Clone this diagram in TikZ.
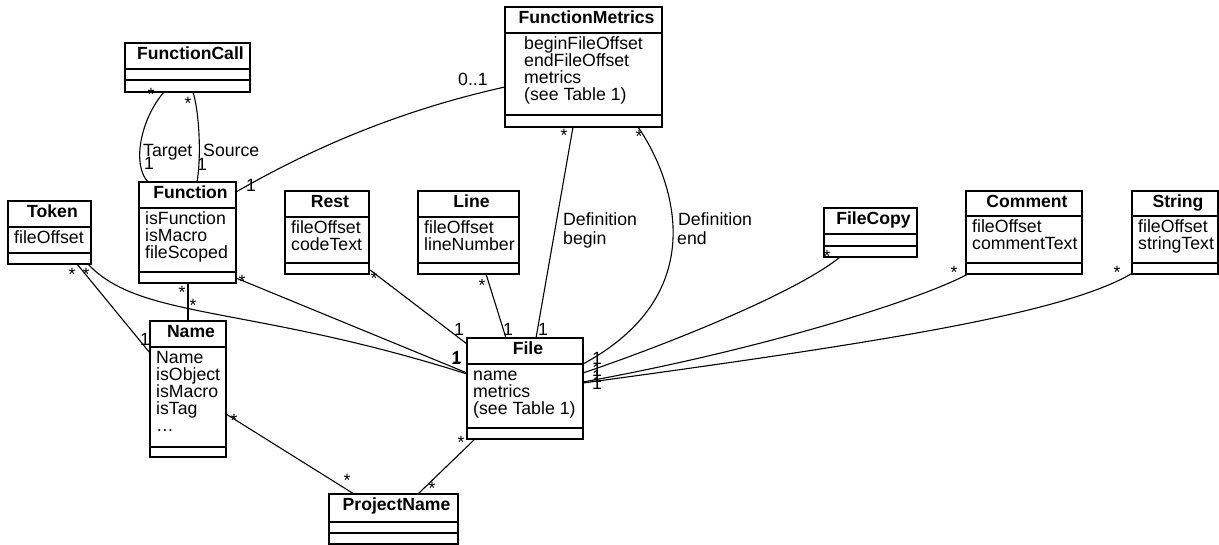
\documentclass[tikz,border=0pt]{standalone}
\usepackage{fontspec}
\setmainfont{Liberation Sans}
\usetikzlibrary{calc}
\tikzset{
  box/.style={draw, line width=1.3pt, inner sep=0pt, outer sep=0pt, anchor=north west},
  hdr/.style={line width=1.6pt},
  sepline/.style={line width=1.3pt},
  title/.style={font=\fontsize{17.6}{17}\selectfont\bfseries, inner sep=0pt, anchor=base},
  attr/.style={font=\fontsize{17.7}{17}\selectfont, inner sep=0pt, anchor=base west},
  lab/.style={font=\fontsize{17.7}{17}\selectfont, inner sep=0pt, anchor=base west},
  mult/.style={font=\fontsize{17.7}{17}\selectfont, inner sep=0pt, anchor=base},
  conn/.style={line width=1.1pt},
}
% #1 name, #2 x, #3 y, #4 width, #5 header h, #6 attr h, #7 ops h, #8 title
\newcommand\umlbox[8]{%
  \node[box, minimum width=#4, minimum height=#5+#6+#7] (#1) at (#2,#3) {};
  \draw[hdr] ($(#1.north west)+(0,#5)$) -- ($(#1.north east)+(0,#5)$);
  \draw[sepline] ($(#1.north west)+(0,#5+#6)$) -- ($(#1.north east)+(0,#5+#6)$);
  \node[title] (#1-t) at ($(#1.north)+(3,16.5)$) {#8};
}
% #1 box, #2 x offset, #3 header h, #4 list
\newcommand\umlattrs[4]{%
  \foreach \at [count=\i] in {#4}{%
    \node[attr] (#1-a\i) at ($(#1.north west)+(#2,#3+16.5+17*\i-17)$) {\at};}%
}
\newcommand\mstar[3]{\node[mult] (#1) at (#2,#3+10) {*};}
\newcommand\mone[3]{\node[lab] (#1) at (#2,#3) {1};}
\begin{document}
\begin{tikzpicture}[x=1pt,y=-1pt]
\useasboundingbox (0,0) rectangle (1219,545);

\umlbox{fcall}{125}{43}{125}{26}{11}{12}{FunctionCall}
\umlbox{fm}{505}{7}{157}{26}{82}{12}{FunctionMetrics}
\umlbox{fn}{139}{182}{97}{26}{64}{11}{Function}
\umlbox{token}{8}{201}{83}{26}{26}{11}{Token}
\umlbox{rest}{285}{191}{84}{26}{46}{11}{Rest}
\umlbox{line}{418}{191}{101}{26}{46}{11}{Line}
\umlbox{file}{467}{338}{116}{26}{64}{11}{File}
\umlbox{fcopy}{824}{208}{93}{26}{12}{11}{FileCopy}
\umlbox{comment}{966}{191}{116}{25}{47}{11}{Comment}
\umlbox{string}{1132}{191}{86}{25}{47}{11}{String}
\umlbox{name}{150}{321}{76}{26}{100}{10}{Name}
\umlbox{proj}{329}{494}{129}{28}{11}{11}{ProjectName}

\umlattrs{fm}{19}{26}{beginFileOffset,endFileOffset,metrics,{(see Table 1)}}
\umlattrs{fn}{6}{26}{isFunction,isMacro,fileScoped}
\umlattrs{token}{6}{26}{fileOffset}
\umlattrs{rest}{6}{26}{fileOffset,codeText}
\umlattrs{line}{6}{26}{fileOffset,lineNumber}
\umlattrs{file}{6}{26}{name,metrics,{(see Table 1)}}
\umlattrs{comment}{6}{25}{fileOffset,commentText}
\umlattrs{string}{6}{25}{fileOffset,stringText}
\umlattrs{name}{6}{26}{Name,isObject,isMacro,isTag,…}

% connectors
\draw[conn] ($(fcall.south west)+(39,0)$) .. controls (140,120) and (132,165) .. ($(fn.north west)+(9,0)$);
\draw[conn] ($(fcall.south west)+(68,0)$) .. controls (200,115) and (201,160) .. ($(fn.north west)+(58,0)$);
\draw[conn] ($(fn.north east)+(0,10)$) .. controls (321,143) and (410,108) .. ($(fm.north west)+(0,80)$);
\draw[conn] ($(fm.south west)+(68,0)$) -- ($(file.north west)+(69,0)$);
\draw[conn] ($(fm.south west)+(133,0)$) .. controls (668,170) and (720,290) .. ($(file.north east)+(0,26)$);
\draw[conn] ($(fcopy.south west)+(16,0)$) .. controls (800,290) and (680,340) .. ($(file.north east)+(0,35)$);
\draw[conn] ($(comment.south west)+(2,0)$) .. controls (920,300) and (760,350) .. ($(file.north east)+(0,44)$);
\draw[conn] ($(string.south west)+(-1,0)$) .. controls (1065,312) and (900,340) .. ($(file.north east)+(0,45)$);
\draw[conn] ($(rest.south east)+(1,-4)$) -- ($(file.north west)+(0,6)$);
\draw[conn] ($(line.south west)+(68,0)$) -- ($(file.north west)+(39,0)$);
\draw[conn] ($(fn.south east)+(0,-5)$) -- ($(file.north west)+(0,35)$);
\draw[conn] ($(token.south east)+(-3,0)$) .. controls (140,320) and (250,305) .. ($(file.north west)+(0,36)$);
\draw[conn] ($(token.south west)+(69,0)$) -- ($(name.north west)+(0,32)$);
\draw[conn] ($(fn.south west)+(49,0)$) -- ($(name.north west)+(38,0)$);
\draw[conn] ($(name.north east)+(0,93)$) -- ($(proj.north west)+(25,0)$);
\draw[conn] ($(file.south west)+(8,0)$) -- ($(proj.north west)+(89,0)$);

% role labels
\node[lab] (lTarget) at (143,157) {Target};
\node[lab] (lSource) at (203,157) {Source};
\node[lab] (lDefB1) at (563,226) {Definition};
\node[lab] (lDefB2) at (563,245) {begin};
\node[lab] (lDefE1) at (678,226) {Definition};
\node[lab] (lDefE2) at (677,245) {end};
\node[lab] (l01) at (458,86) {0..1};

% multiplicities 1
\mone{m1a}{144}{170}
\mone{m1b}{197}{171}
\mone{m1c}{246}{192}
\mone{m1d}{140}{346}
\mone{m1e}{454}{336}
\mone{m1f}{503}{336}
\mone{m1g}{538}{336}
\mone{m1h}{451}{365}
\mone{m1i}{452}{364}
\mone{m1j}{592}{365}
\mone{m1k}{592}{377}
\mone{m1l}{592}{383}
\mone{m1m}{592}{390}

% multiplicities *
\mstar{s1}{151}{91}
\mstar{s2}{188}{100}
\mstar{s3}{564}{132}
\mstar{s4}{639}{133}
\mstar{s5}{72}{271}
\mstar{s6}{86}{271}
\mstar{s7}{182}{289}
\mstar{s8}{193}{302}
\mstar{s9}{242}{278}
\mstar{s10}{374}{275}
\mstar{s11}{482}{282}
\mstar{s12}{827}{253}
\mstar{s13}{954}{269}
\mstar{s14}{1117}{269}
\mstar{s15}{234}{417}
\mstar{s16}{347}{476}
\mstar{s17}{461}{438}
\mstar{s18}{432}{484}
\end{tikzpicture}
\end{document}
